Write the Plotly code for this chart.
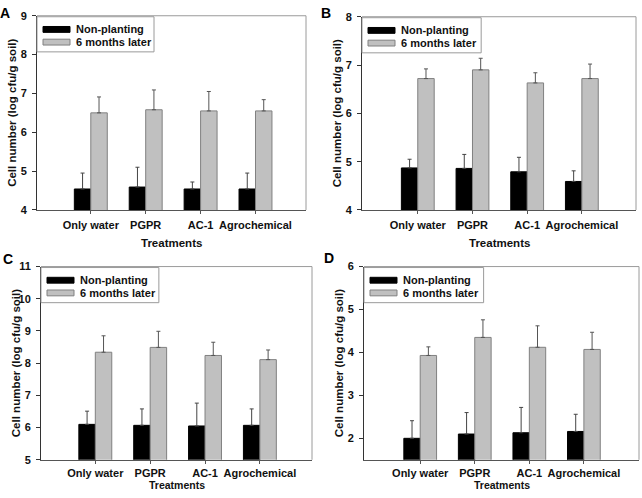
import plotly.graph_objects as go

categories = ["Only water", "PGPR", "AC-1", "Agrochemical"]
series_names = ["Non-planting", "6 months later"]

# Panel A
a_np = [4.54, 4.59, 4.54, 4.54]
a_np_sd = [0.41, 0.51, 0.18, 0.41]
a_6m = [6.50, 6.58, 6.55, 6.55]
a_6m_sd = [0.41, 0.51, 0.50, 0.29]
# Panel B
b_np = [4.87, 4.86, 4.79, 4.59]
b_np_sd = [0.18, 0.29, 0.30, 0.22]
b_6m = [6.72, 6.90, 6.63, 6.72]
b_6m_sd = [0.20, 0.24, 0.21, 0.30]
# Panel C
c_np = [6.10, 6.07, 6.05, 6.07]
c_np_sd = [0.41, 0.51, 0.71, 0.51]
c_6m = [8.34, 8.49, 8.24, 8.11]
c_6m_sd = [0.51, 0.50, 0.41, 0.30]
# Panel D
d_np = [2.00, 2.10, 2.13, 2.16]
d_np_sd = [0.41, 0.50, 0.59, 0.40]
d_6m = [3.93, 4.35, 4.12, 4.07]
d_6m_sd = [0.20, 0.41, 0.50, 0.40]

panel_letters = ["A", "B", "C", "D"]
y_ranges = [[4, 9], [4, 8], [5, 11], [1.5, 6]]
y_ticks = [[4, 5, 6, 7, 8, 9], [4, 5, 6, 7, 8], [5, 6, 7, 8, 9, 10, 11], [2, 3, 4, 5, 6]]
x_ranges = [[-0.98, 3.92], [-1.02, 3.99], [-0.99, 3.95], [-1.03, 4.01]]

W, H = 642, 498
# pixel boxes of plot areas (left, right, top, bottom)
boxes = [(37, 306, 10, 209), (362, 636, 11, 209), (41, 312, 267, 465), (364, 639, 267, 465)]
letter_pos = [(5, 7), (326, 7), (8, 259), (329, 258)]

FONT = "Liberation Sans, Arial, sans-serif"
fig = go.Figure()

data = [(a_np, a_np_sd, a_6m, a_6m_sd), (b_np, b_np_sd, b_6m, b_6m_sd),
        (c_np, c_np_sd, c_6m, c_6m_sd), (d_np, d_np_sd, d_6m, d_6m_sd)]

shapes = []
annotations = []
for i, (np_v, np_sd, m6_v, m6_sd) in enumerate(data):
    sfx = "" if i == 0 else str(i + 1)
    xa, ya = "x" + sfx, "y" + sfx
    fig.add_trace(go.Bar(
        x=categories, y=np_v, name=series_names[0], xaxis=xa, yaxis=ya,
        marker=dict(color="#000000", line=dict(color="#000000", width=1)),
        error_y=dict(type="data", array=np_sd, arrayminus=[0] * 4, symmetric=False,
                     color="#444444", thickness=1, width=2),
        showlegend=False, offsetgroup="np"))
    fig.add_trace(go.Bar(
        x=categories, y=m6_v, name=series_names[1], xaxis=xa, yaxis=ya,
        marker=dict(color="#c0c0c0", line=dict(color="#808080", width=1)),
        error_y=dict(type="data", array=m6_sd, arrayminus=[0] * 4, symmetric=False,
                     color="#555555", thickness=1, width=2),
        showlegend=False, offsetgroup="m6"))

    l, r, t, b = boxes[i]
    pw, ph = r - l, b - t
    fig.layout["xaxis" + sfx] = dict(
        domain=[l / W, r / W], anchor=ya, type="category", range=x_ranges[i],
        showline=True, linecolor="#555555", linewidth=1, mirror=False,
        ticks="outside", ticklen=3, tickcolor="#555555",
        ticklabelstandoff=2 if i < 2 else 0,
        tickfont=dict(family=FONT, size=11, color="#111111", weight="bold"),
        showgrid=False, zeroline=False, fixedrange=True)
    fig.layout["yaxis" + sfx] = dict(
        domain=[1 - b / H, 1 - t / H], anchor=xa, range=y_ranges[i], tickvals=y_ticks[i],
        showline=True, linecolor="#333333", linewidth=1, mirror=False,
        ticks="outside", ticklen=4, tickcolor="#333333", ticklabelstandoff=3,
        tickfont=dict(family=FONT, size=11, color="#111111", weight="bold"),
        showgrid=False, zeroline=False, fixedrange=True)

    xd, yd = xa + " domain", ya + " domain"
    # top/right frame
    shapes.append(dict(type="line", xref=xd, yref=yd, x0=0, x1=1, y0=1, y1=1,
                       line=dict(color="#9a9a9a", width=1)))
    shapes.append(dict(type="line", xref=xd, yref=yd, x0=1, x1=1, y0=0, y1=1,
                       line=dict(color="#9a9a9a", width=1)))
    # legend box
    lx1 = (154 - 37) / 269
    shapes.append(dict(type="rect", xref=xd, yref=yd, x0=0, x1=lx1,
                       y0=1 - 37 / ph, y1=1 - 1 / ph,
                       line=dict(color="#9a9a9a", width=1), fillcolor="white", layer="above"))
    for j, (col, lc) in enumerate([("#000000", "#000000"), ("#c0c0c0", "#808080")]):
        yc = 1 - (14 + 13 * j) / ph
        shapes.append(dict(type="rect", xref=xd, yref=yd, x0=6 / pw, x1=33 / pw,
                           y0=yc - 3 / ph, y1=yc + 3 / ph, fillcolor=col,
                           line=dict(color=lc, width=1), layer="above"))
        annotations.append(dict(text=series_names[j], xref=xd, yref=yd, x=37 / pw, y=yc,
                                xanchor="left", yanchor="middle", showarrow=False,
                                font=dict(family=FONT, size=11, color="#111111", weight="bold")))
    # axis titles
    annotations.append(dict(text="Cell number (log cfu/g soil)", xref=xd, yref=yd,
                            x=-25 / pw, y=0.5, textangle=-90, showarrow=False,
                            xanchor="center", yanchor="middle",
                            font=dict(family=FONT, size=11.5, color="#111111", weight="bold")))
    if i < 2:
        annotations.append(dict(text="Treatments", xref=xd, yref=yd, x=0.5, y=-34 / ph,
                                showarrow=False, xanchor="center", yanchor="middle",
                                font=dict(family=FONT, size=11.5, color="#111111", weight="bold")))
    else:
        annotations.append(dict(text="Treatments", xref=xd, yref="paper", x=0.5, y=0,
                                showarrow=False, xanchor="center", yanchor="bottom",
                                borderpad=0,
                                font=dict(family=FONT, size=10.5, color="#111111", weight="bold")))
    lxp, lyp = letter_pos[i]
    annotations.append(dict(text=panel_letters[i], xref="paper", yref="paper",
                            x=lxp / W, y=1 - lyp / H, showarrow=False,
                            xanchor="center", yanchor="middle",
                            font=dict(family=FONT, size=14, color="#000000", weight="bold")))

fig.update_layout(
    width=W, height=H, margin=dict(l=0, r=0, t=0, b=0),
    paper_bgcolor="white", plot_bgcolor="white",
    barmode="group", bargap=0.4, bargroupgap=0,
    shapes=shapes, annotations=annotations, showlegend=False)

fig.write_html("out.html", include_plotlyjs=True, config={"displayModeBar": False})
